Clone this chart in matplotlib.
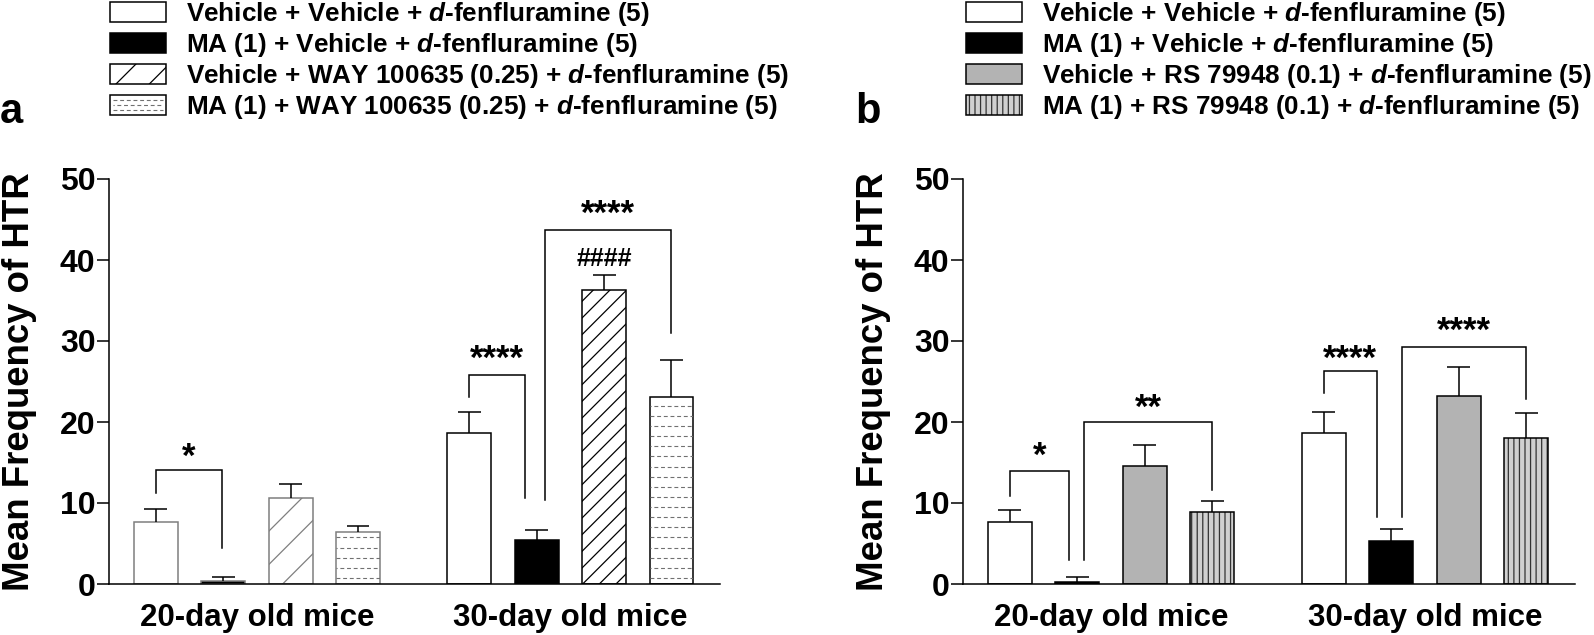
import matplotlib
matplotlib.use("Agg")
import matplotlib.pyplot as plt
import numpy as np
from matplotlib.patches import Patch, Rectangle
from matplotlib.lines import Line2D
from matplotlib.legend_handler import HandlerBase, HandlerTuple

# ── data ──────────────────────────────────────────────────────────────────────
groups = ["20-day old mice", "30-day old mice"]

labels_a = [
    r"Vehicle + Vehicle + $\mathit{d}$-fenfluramine (5)",
    r"MA (1) + Vehicle + $\mathit{d}$-fenfluramine (5)",
    r"Vehicle + WAY 100635 (0.25) + $\mathit{d}$-fenfluramine (5)",
    r"MA (1) + WAY 100635 (0.25) + $\mathit{d}$-fenfluramine (5)",
]
labels_b = [
    r"Vehicle + Vehicle + $\mathit{d}$-fenfluramine (5)",
    r"MA (1) + Vehicle + $\mathit{d}$-fenfluramine (5)",
    r"Vehicle + RS 79948 (0.1) + $\mathit{d}$-fenfluramine (5)",
    r"MA (1) + RS 79948 (0.1) + $\mathit{d}$-fenfluramine (5)",
]

mean_a_20 = [7.7, 0.33, 10.6, 6.4]
sem_a_20  = [1.55, 0.50, 1.8, 0.7]
mean_a_30 = [18.7, 5.45, 36.3, 23.1]
sem_a_30  = [2.5, 1.25, 1.8, 4.5]

mean_b_20 = [7.7, 0.3, 14.6, 8.95]
sem_b_20  = [1.45, 0.53, 2.5, 1.25]
mean_b_30 = [18.6, 5.35, 23.2, 18.0]
sem_b_30  = [2.6, 1.45, 3.6, 3.1]

# brackets: bar i, bar j, leg shift i, leg shift j, left foot, top, right foot, label, label y
sig_a = [
    (0, 1, 0.0, -0.02, 11.2, 14.1, 4.4, "*", 17.0),
    (4, 5, 0.0, -0.17, 23.1, 25.8, 10.6, "****", 29.0),
    (5, 7, 0.12, 0.0, 10.4, 43.7, 31.0, "****", 46.9),
]
hash_a = [(6, "####", 40.4)]
sig_b = [
    (0, 1, 0.0, -0.12, 10.9, 14.0, 3.0, "*", 17.1),
    (1, 3, 0.10, 0.0, 3.0, 20.0, 11.6, "**", 23.0),
    (4, 5, 0.0, -0.22, 23.6, 26.3, 8.3, "****", 29.1),
    (5, 7, 0.16, 0.0, 8.3, 29.3, 22.9, "****", 32.5),
]

# ── style ─────────────────────────────────────────────────────────────────────
W, H = 1594, 635
LW = 1.1
BAR_W = 0.65
CAP = 0.17
GROUP_GAP = 4.65
GRAY_EDGE = "#7f7f7f"
STAR_FS = 25
HASH_FS = 18
STRIPE_FC, STRIPE_HC = "#d0d0d0", "#333333"
DASH_C = "#707070"

plt.rcParams.update({
    "font.family": ["Liberation Sans", "DejaVu Sans"],
    "font.weight": "bold",
    "axes.labelweight": "bold",
    "mathtext.fontset": "custom",
    "mathtext.rm": "Liberation Sans:bold",
    "mathtext.it": "Liberation Sans:italic:bold",
    "hatch.linewidth": 0.9,
    "axes.linewidth": LW,
})

xpos = np.r_[np.arange(4), np.arange(4) + GROUP_GAP]


def dash_rows(ax, x, h, clip):
    for k, yy in enumerate(np.arange(0.75, h - 0.3, 1.25)):
        ln, = ax.plot([x - BAR_W / 2, x + BAR_W / 2], [yy, yy], color=DASH_C,
                      lw=0.8, ls=(2.5 * (k % 2), (3.5, 2.5)), zorder=2.5)
        ln.set_clip_path(clip)


def styled_bar(ax, x, h, kind, edge, diag):
    if kind == "stripe":
        ax.bar(x, h, BAR_W, color=STRIPE_FC, edgecolor=STRIPE_HC, hatch="|||",
               linewidth=0, zorder=2)
        ax.bar(x, h, BAR_W, fill=False, edgecolor=edge, linewidth=LW, zorder=3)
        return
    fc = {"white": "white", "black": "black", "diag": "white",
          "dash": "white", "gray": "#b3b3b3"}[kind]
    hatch = diag if kind == "diag" else None
    bars = ax.bar(x, h, BAR_W, color=fc, edgecolor=edge, hatch=hatch,
                  linewidth=LW, zorder=2)
    if kind == "dash":
        dash_rows(ax, x, h, bars[0])


def draw_panel(ax, m20, s20, m30, s30, kinds, edge20, sig, hashes):
    means = list(m20) + list(m30)
    sems = list(s20) + list(s30)
    edges = [edge20] * 4 + ["black"] * 4
    diags = ["/"] * 4 + ["//"] * 4
    for x, m, kind, ec, dg in zip(xpos, means, kinds * 2, edges, diags):
        styled_bar(ax, x, m, kind, ec, dg)
    tops = np.array(means) + np.array(sems)
    ax.vlines(xpos, means, tops, color="black", lw=LW, zorder=4)
    ax.hlines(tops, xpos - CAP, xpos + CAP, color="black", lw=LW, zorder=4)

    for i, j, di, dj, y1, yt, y2, txt, ytx in sig:
        x1, x2 = xpos[i] + di, xpos[j] + dj
        ax.plot([x1, x1, x2, x2], [y1, yt, yt, y2], color="black", lw=LW,
                solid_joinstyle="miter", zorder=5)
        ax.annotate(txt, ((x1 + x2) / 2, ytx), xytext=(0, -0.58 * STAR_FS),
                    textcoords="offset points", ha="center", va="baseline",
                    fontsize=STAR_FS, fontweight="bold")
    for i, txt, ytx in hashes:
        ax.annotate(txt, (xpos[i], ytx), xytext=(0, -0.35 * HASH_FS),
                    textcoords="offset points", ha="center", va="baseline",
                    fontsize=HASH_FS, fontweight="bold")

    ax.set_xlim(-0.69, 8.37)
    ax.set_ylim(0, 50)
    ax.set_yticks(np.arange(0, 51, 10))
    ax.set_xticks([1.5, 1.5 + GROUP_GAP])
    ax.set_xticklabels(groups)
    for s in ("top", "right"):
        ax.spines[s].set_visible(False)
    ax.tick_params(axis="x", length=0, pad=14, labelsize=22.5)
    ax.tick_params(axis="y", length=9, width=LW, pad=1, labelsize=23)
    ax.set_ylabel("Mean Frequency of HTR", fontsize=26.4, fontweight="bold")
    ax.yaxis.set_label_coords(-0.118, 0.5)


class DashFill(HandlerBase):
    def create_artists(self, legend, orig_handle, xdescent, ydescent, width,
                       height, fontsize, trans):
        x0, y0 = -xdescent, -ydescent
        arts = [Rectangle((x0, y0), width, height, facecolor="white",
                          edgecolor="black", lw=LW, transform=trans)]
        for k, frac in enumerate((0.25, 0.5, 0.75)):
            arts.append(Line2D([x0 + 2, x0 + width - 2], [y0 + height * frac] * 2,
                               color=DASH_C, lw=0.8,
                               ls=(2.5 * (k % 2), (3.5, 2.5)), transform=trans))
        return arts


fig = plt.figure(figsize=(W / 100, H / 100), dpi=100, facecolor="white")
ax_a = fig.add_axes([109.3 / W, 51 / H, 610.7 / W, 405 / H])
ax_b = fig.add_axes([963.3 / W, 51 / H, 611.7 / W, 405 / H])

draw_panel(ax_a, mean_a_20, sem_a_20, mean_a_30, sem_a_30,
           ["white", "black", "diag", "dash"], GRAY_EDGE, sig_a, hash_a)
draw_panel(ax_b, mean_b_20, sem_b_20, mean_b_30, sem_b_30,
           ["white", "black", "gray", "stripe"], "black", sig_b, [])

# ── legends ───────────────────────────────────────────────────────────────────
leg_kw = dict(loc="upper left", frameon=False, fontsize=18.8, handlelength=2.15,
              handleheight=0.77, handletextpad=0.75, labelspacing=0.115,
              borderpad=0, borderaxespad=0)

dash_handle = Patch(facecolor="white", edgecolor="black")
handles_a = [
    Patch(facecolor="white", edgecolor="black", lw=LW),
    Patch(facecolor="black", edgecolor="black", lw=LW),
    Patch(facecolor="white", edgecolor="black", hatch="/", lw=LW),
    dash_handle,
]
fig.legend(handles_a, labels_a, bbox_to_anchor=(110 / W, 1.0),
           handler_map={dash_handle: DashFill()}, **leg_kw)

stripe_handle = (Patch(facecolor=STRIPE_FC, edgecolor=STRIPE_HC, hatch="|||", lw=0),
                 Patch(fill=False, edgecolor="black", lw=LW))
handles_b = [
    Patch(facecolor="white", edgecolor="black", lw=LW),
    Patch(facecolor="black", edgecolor="black", lw=LW),
    Patch(facecolor="#b3b3b3", edgecolor="black", lw=LW),
    stripe_handle,
]
fig.legend(handles_b, labels_b, bbox_to_anchor=(966 / W, 1.0),
           handler_map={tuple: HandlerTuple(ndivide=1)}, **leg_kw)

fig.text(0 / W, 1 - 123 / H, "a", fontsize=30, ha="left", va="baseline")
fig.text(855 / W, 1 - 123 / H, "b", fontsize=30, ha="left", va="baseline")

fig.savefig("out.png", dpi=100, facecolor="white")
